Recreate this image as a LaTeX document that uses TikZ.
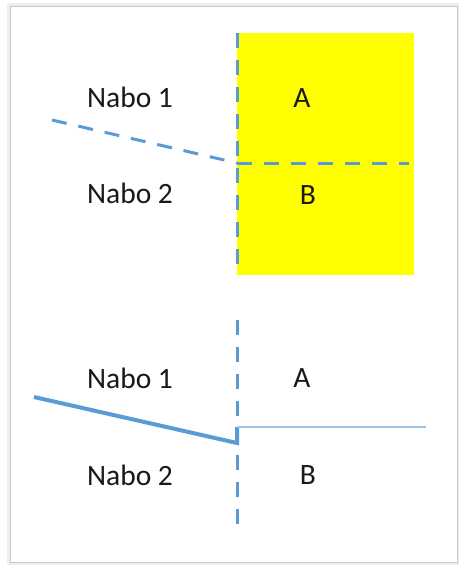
\documentclass[tikz,border=0pt]{standalone}
\usepackage{fontspec}
\setmainfont{Carlito}
\usetikzlibrary{positioning}
\definecolor{nbBlue}{HTML}{5B9BD5}
\definecolor{nbBlueL}{HTML}{9DC3E6}
\definecolor{nbYellow}{HTML}{FFFF00}
\definecolor{nbGray}{HTML}{C8C8C8}
\definecolor{nbGrayL}{HTML}{EDEDED}
\tikzset{
  nb-label/.style={font=\fontsize{29.5}{32}\selectfont, text=black!90, inner sep=0pt},
  nb-dash/.style={draw=nbBlue, line width=3pt, dash pattern=on 15pt off 12pt},
  nb-solid/.style={draw=nbBlue, line width=4pt},
  nb-thin/.style={draw=nbBlueL, line width=1.2pt},
  nb-frame/.style={draw=nbGray, line width=1pt, fill=white}
}
\begin{document}
\begin{tikzpicture}[x=1pt, y=-1pt]
\useasboundingbox (0,0) rectangle (459,565);
% Frame with shadow
\fill[nbGrayL] (7,3) rectangle (459,565);
\filldraw[nb-frame] (10,6) rectangle (457,562);
% Upper part
\fill[nbYellow] (237,33) rectangle (414,275);
\coordinate (t-top) at (237,33);
\coordinate (t-bot) at (237,275);
\coordinate (t-mid) at (237,163);
\coordinate (t-left) at (52,120);
\coordinate (t-right) at (409,163);
\draw[nb-dash] (t-top) -- (t-bot);
\draw[nb-dash] (t-left) -- (t-mid);
\draw[nb-dash] (t-mid) -- (t-right);
\node[nb-label] (n1) at (130,97) {Nabo 1};
\node[nb-label] (n2) at (130,193) {Nabo 2};
\node[nb-label] (a) at (302,98) {A};
\node[nb-label] (b) at (308,195) {B};
% Lower part
\coordinate (l-top) at (237,320);
\coordinate (l-bot) at (237,532);
\coordinate (l-left) at (34,397);
\coordinate (l-knee) at (237,443);
\coordinate (l-mid) at (237,427);
\coordinate (l-right) at (426,427);
\draw[nb-dash] (l-top) -- (l-bot);
\draw[nb-solid] (l-left) -- (l-knee) -- (l-mid);
\draw[nb-thin] (l-mid) -- (l-right);
\node[nb-label] (n3) at (130,378) {Nabo 1};
\node[nb-label] (n4) at (130,475) {Nabo 2};
\node[nb-label] (a2) at (302,378) {A};
\node[nb-label] (b2) at (308,475) {B};
\end{tikzpicture}
\end{document}
